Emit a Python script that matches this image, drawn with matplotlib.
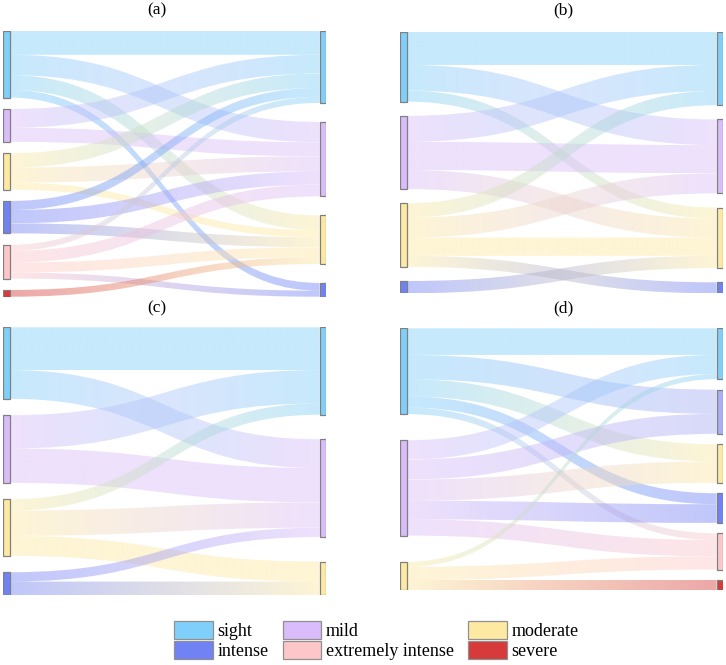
import numpy as np
import matplotlib
matplotlib.use("Agg")
import matplotlib.pyplot as plt
from matplotlib.patches import PathPatch, Rectangle, Patch
from matplotlib.path import Path
from matplotlib.colors import to_rgb

plt.rcParams['font.family'] = ['Liberation Serif', 'DejaVu Serif']

# categories and their colours
categories = ["sight", "mild", "moderate", "intense", "extremely intense", "severe"]
cat_colors = {
    "sight": "#80cffa",
    "mild": "#dabcfa",
    "moderate": "#fde9a2",
    "intense": "#7182f5",
    "extremely intense": "#fdc7ca",
    "severe": "#d63a3a",
}

# panel (a)
a_left = ["sight", "mild", "moderate", "intense", "extremely intense", "severe"]
a_right = ["sight", "mild", "moderate", "intense"]
a_flows = [
    ("sight", "sight", 24.0), ("sight", "mild", 20.3), ("sight", "moderate", 14.7), ("sight", "intense", 7.7),
    ("mild", "sight", 18.7), ("mild", "mild", 14.0),
    ("moderate", "sight", 14.3), ("moderate", "mild", 15.0), ("moderate", "moderate", 7.0),
    ("intense", "sight", 9.0), ("intense", "mild", 13.3), ("intense", "moderate", 10.0),
    ("extremely intense", "sight", 6.0), ("extremely intense", "mild", 11.7),
    ("extremely intense", "moderate", 10.0), ("extremely intense", "intense", 6.0),
    ("severe", "moderate", 6.7),
]

# panel (b)
b_left = ["sight", "mild", "moderate", "intense"]
b_right = ["sight", "mild", "moderate", "intense"]
b_flows = [
    ("sight", "sight", 33.3), ("sight", "mild", 25.7), ("sight", "moderate", 11.0),
    ("mild", "sight", 26.0), ("mild", "mild", 28.3), ("mild", "moderate", 19.0),
    ("moderate", "sight", 14.3), ("moderate", "mild", 20.0), ("moderate", "moderate", 18.3),
    ("moderate", "intense", 11.0),
    ("intense", "moderate", 12.3),
]

# panel (c)
c_left = ["sight", "mild", "moderate", "intense"]
c_right = ["sight", "mild", "moderate"]
c_flows = [
    ("sight", "sight", 42.7), ("sight", "mild", 28.7),
    ("mild", "sight", 33.3), ("mild", "mild", 34.3),
    ("moderate", "sight", 11.3), ("moderate", "mild", 25.3), ("moderate", "moderate", 20.0),
    ("intense", "mild", 9.3), ("intense", "moderate", 13.7),
]

# panel (d)
d_left = ["sight", "mild", "moderate"]
d_right = ["sight", "mild", "moderate", "intense", "extremely intense", "severe"]
d_flows = [
    ("sight", "sight", 26.7), ("sight", "mild", 24.3), ("sight", "moderate", 17.3),
    ("sight", "intense", 11.0), ("sight", "extremely intense", 6.7),
    ("mild", "sight", 19.3), ("mild", "mild", 20.0), ("mild", "moderate", 21.3),
    ("mild", "intense", 18.7), ("mild", "extremely intense", 16.3),
    ("moderate", "sight", 5.0), ("moderate", "extremely intense", 13.3), ("moderate", "severe", 10.0),
]
# the mild target node in (d) is drawn in a bluer tint
d_right_colors = {"mild": "#a9aef6"}

panels = [
    ("(a)", a_left, a_right, a_flows, {}),
    ("(b)", b_left, b_right, b_flows, {}),
    ("(c)", c_left, c_right, c_flows, {}),
    ("(d)", d_left, d_right, d_flows, d_right_colors),
]

# layout (pixels of a 726x665 figure): left, top, bottom, fill fraction, title x, title y
W, H = 726, 665
boxes = [(3, 30.7, 296.7, 0.786, 157, 10), (400, 31.7, 293.3, 0.837, 563, 10),
         (3, 327.3, 595.3, 0.817, 157, 308), (400, 328.3, 590.0, 0.800, 563, 308)]
panel_w = 323
node_w = 6.5 / panel_w
link_alpha = 0.45


def column_layout(nodes, totals, k):
    used = sum(totals[n] for n in nodes) * k
    gap = (1 - used) / (len(nodes) - 1) if len(nodes) > 1 else 0
    pos = {}
    y = 0.0
    for n in nodes:
        pos[n] = (y, y + totals[n] * k)
        y += totals[n] * k + gap
    return pos


def draw_link(ax, x0, x1, s0, s1, t0, t1, c0, c1):
    xm = (x0 + x1) / 2
    verts = [(x0, s0), (xm, s0), (xm, t0), (x1, t0),
             (x1, t1), (xm, t1), (xm, s1), (x0, s1), (x0, s0)]
    codes = [Path.MOVETO, Path.CURVE4, Path.CURVE4, Path.CURVE4,
             Path.LINETO, Path.CURVE4, Path.CURVE4, Path.CURVE4, Path.CLOSEPOLY]
    patch = PathPatch(Path(verts, codes), facecolor="none", edgecolor="none")
    ax.add_patch(patch)
    t = np.linspace(0, 1, 256)
    rgb0 = np.array(to_rgb(c0))
    rgb1 = np.array(to_rgb(c1))
    img = np.zeros((2, 256, 4))
    img[:, :, :3] = rgb0 * (1 - t[:, None]) + rgb1 * t[:, None]
    img[:, :, 3] = link_alpha
    ylo = min(s0, t0)
    yhi = max(s1, t1)
    im = ax.imshow(img, extent=[x0, x1, yhi, ylo], aspect="auto",
                   interpolation="bilinear", zorder=1)
    im.set_clip_path(patch)


fig = plt.figure(figsize=(W / 100, H / 100), dpi=100)

for (title, left, right, flows, rcols), (px, top, bot, fill, tx, ty) in zip(panels, boxes):
    ax = fig.add_axes([px / W, 1 - bot / H, panel_w / W, (bot - top) / H])
    out_tot = {n: sum(v for s, t, v in flows if s == n) for n in left}
    in_tot = {n: sum(v for s, t, v in flows if t == n) for n in right}
    k = fill / max(sum(out_tot.values()), sum(in_tot.values()))
    lpos = column_layout(left, out_tot, k)
    rpos = column_layout(right, in_tot, k)

    # offsets of each flow at its source and target
    src_off = {n: lpos[n][0] for n in left}
    tgt_off = {n: rpos[n][0] for n in right}
    src_band = {}
    for s in left:
        for f in sorted([f for f in flows if f[0] == s], key=lambda f: right.index(f[1])):
            src_band[f] = (src_off[s], src_off[s] + f[2] * k)
            src_off[s] += f[2] * k
    tgt_band = {}
    for t in right:
        for f in sorted([f for f in flows if f[1] == t], key=lambda f: left.index(f[0])):
            tgt_band[f] = (tgt_off[t], tgt_off[t] + f[2] * k)
            tgt_off[t] += f[2] * k

    for f in flows:
        s0, s1 = src_band[f]
        t0, t1 = tgt_band[f]
        draw_link(ax, node_w, 1 - node_w, s0, s1, t0, t1,
                  cat_colors[f[0]], rcols.get(f[1], cat_colors[f[1]]))

    for n in left:
        y0, y1 = lpos[n]
        ax.add_patch(Rectangle((0, y0), node_w, y1 - y0, facecolor=cat_colors[n],
                               edgecolor="#808080", linewidth=0.9, zorder=3))
    for n in right:
        y0, y1 = rpos[n]
        ax.add_patch(Rectangle((1 - node_w, y0), node_w, y1 - y0,
                               facecolor=rcols.get(n, cat_colors[n]),
                               edgecolor="#808080", linewidth=0.9, zorder=3))

    ax.set_xlim(0, 1)
    ax.set_ylim(1, 0)
    ax.axis("off")
    fig.text(tx / W, 1 - ty / H, title, fontsize=12.5, ha="center", va="center")

# legend
legend_order = ["sight", "intense", "mild", "extremely intense", "moderate", "severe"]
handles = [Patch(facecolor=cat_colors[c], edgecolor="#909090", linewidth=0.9) for c in legend_order]
fig.legend(handles, legend_order, ncol=3, loc="upper left",
           bbox_to_anchor=(174 / W, 1 - 621 / H), frameon=False, fontsize=13,
           handlelength=2.15, handleheight=1.12, handletextpad=0.25,
           columnspacing=0.78, labelspacing=0.08, borderpad=0, borderaxespad=0)

fig.savefig("out.png", dpi=100)
